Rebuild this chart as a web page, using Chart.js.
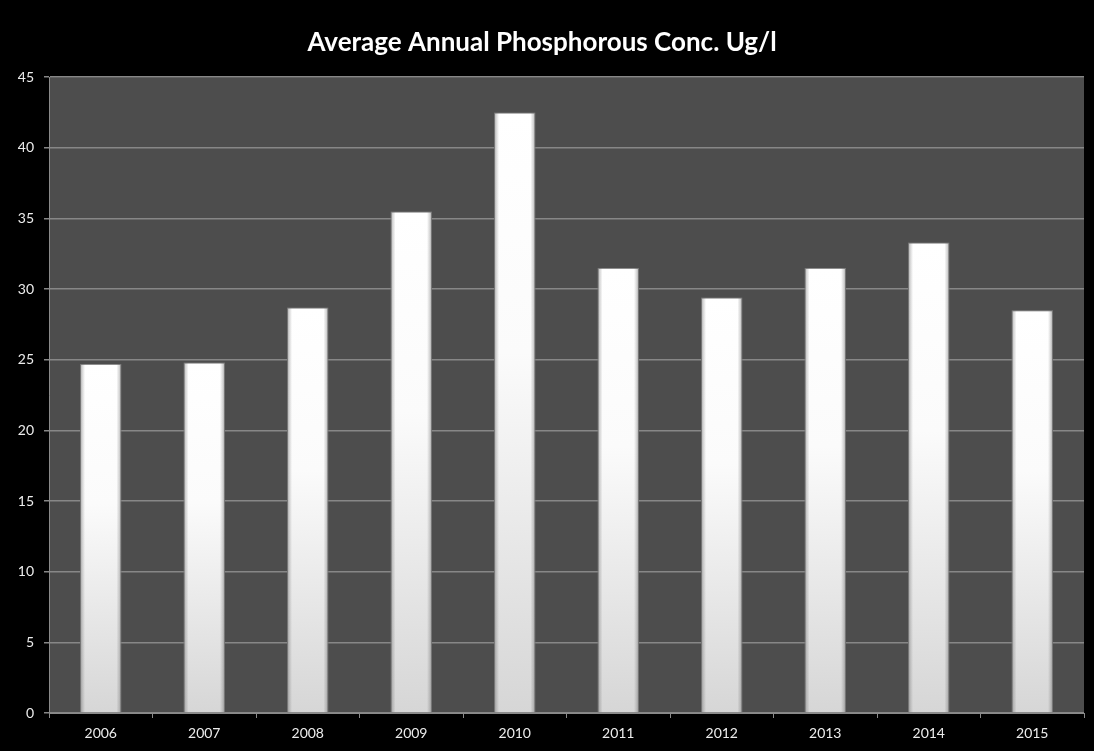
<!DOCTYPE html>
<html>
<head>
<meta charset="utf-8">
<script src="https://cdn.jsdelivr.net/npm/chart.js@4"></script>
<style>
  html, body { margin: 0; padding: 0; background: #000; }
  #wrap { width: 1094px; height: 751px; }
</style>
</head>
<body>
<div id="wrap"><canvas id="c" width="1094" height="751"></canvas></div>
<script>
const titleText = 'Average Annual Phosphorous Conc. Ug/l';
const years = ['2006', '2007', '2008', '2009', '2010', '2011', '2012', '2013', '2014', '2015'];
const phosphorus = [24.7, 24.8, 28.7, 35.5, 42.5, 31.5, 29.4, 31.5, 33.3, 28.5];
const yTicks = [0, 5, 10, 15, 20, 25, 30, 35, 40, 45];

const bgPlugin = {
  id: 'bg',
  beforeDraw(chart) {
    const { ctx, chartArea: a } = chart;
    ctx.save();
    ctx.fillStyle = '#000';
    ctx.fillRect(0, 0, chart.width, chart.height);
    ctx.fillStyle = '#4d4d4d';
    ctx.fillRect(a.left, a.top, a.right - a.left, a.bottom - a.top);
    ctx.restore();
  }
};

const edgePlugin = {
  id: 'edges',
  afterDatasetsDraw(chart) {
    const { ctx } = chart;
    const meta = chart.getDatasetMeta(0);
    ctx.save();
    meta.data.forEach(bar => {
      const left = bar.x - bar.width / 2;
      const right = bar.x + bar.width / 2;
      const top = Math.min(bar.y, bar.base);
      const h = Math.abs(bar.base - bar.y);
      const g = ctx.createLinearGradient(left, 0, right, 0);
      g.addColorStop(0, 'rgba(90,90,90,0.45)');
      g.addColorStop(0.12, 'rgba(90,90,90,0.0)');
      g.addColorStop(0.88, 'rgba(90,90,90,0.0)');
      g.addColorStop(1, 'rgba(90,90,90,0.45)');
      ctx.fillStyle = g;
      ctx.fillRect(left, top, bar.width, h);
    });
    ctx.restore();
  }
};

new Chart(document.getElementById('c'), {
  type: 'bar',
  data: {
    labels: years,
    datasets: [{
      data: phosphorus,
      backgroundColor(context) {
        const chart = context.chart;
        const { ctx, chartArea } = chart;
        if (!chartArea || context.raw === undefined) return '#f0f0f0';
        const ys = chart.scales.y;
        const top = ys.getPixelForValue(context.raw);
        const bottom = ys.getPixelForValue(0);
        if (!isFinite(top) || !isFinite(bottom)) return '#f0f0f0';
        const g = ctx.createLinearGradient(0, top, 0, bottom);
        g.addColorStop(0, '#ffffff');
        g.addColorStop(0.4, '#fbfbfb');
        g.addColorStop(1, '#d6d6d6');
        return g;
      },
      borderColor: '#8e8e8e',
      borderWidth: 1,
      barPercentage: 0.4,
      categoryPercentage: 1.0
    }]
  },
  options: {
    responsive: false,
    animation: false,
    devicePixelRatio: 1,
    layout: { padding: { left: 0, right: 10, top: 0, bottom: 0 } },
    plugins: {
      legend: { display: false },
      tooltip: { enabled: false },
      title: {
        display: true,
        text: titleText,
        color: '#ffffff',
        font: { family: 'Lato', size: 26, weight: 'bold' },
        padding: { top: 27, bottom: 19 }
      }
    },
    scales: {
      x: {
        grid: {
          offset: true,
          drawOnChartArea: false,
          drawTicks: true,
          tickLength: 5,
          color: '#8a8a8a'
        },
        border: { display: true, color: '#8a8a8a', width: 1 },
        ticks: {
          color: '#ececec',
          font: { family: 'Lato', size: 14 },
          padding: 7
        },
        afterFit(scale) { scale.height = 38; }
      },
      y: {
        min: 0,
        max: 45,
        afterBuildTicks(scale) { scale.ticks = yTicks.map(v => ({ value: v })); },
        grid: {
          color: '#878787',
          lineWidth: 1.5,
          drawTicks: true,
          tickLength: 5
        },
        border: { display: true, color: '#8a8a8a', width: 1 },
        ticks: {
          color: '#ececec',
          font: { family: 'Lato', size: 14 },
          padding: 10
        },
        afterFit(scale) { scale.width = 49; }
      }
    }
  },
  plugins: [bgPlugin, edgePlugin]
});
</script>
</body>
</html>
